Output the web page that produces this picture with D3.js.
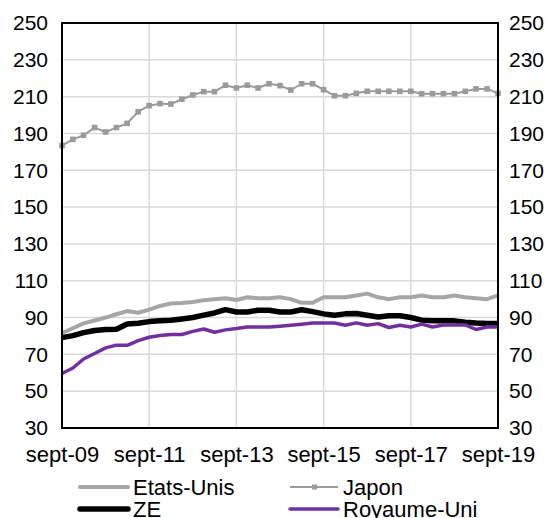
<!DOCTYPE html>
<html>
<head>
<meta charset="utf-8">
<script src="https://cdn.jsdelivr.net/npm/d3@7"></script>
<style>
  body { margin: 0; background: #fff; }
  text { font-family: "Liberation Sans", Arial, sans-serif; }
</style>
</head>
<body>
<div id="chart"></div>
<script>
// quarterly, sept-09 .. sept-19
var start = new Date(2009, 8, 1), end = new Date(2019, 8, 1);
var dates = d3.timeMonth.range(start, d3.timeMonth.offset(end, 1), 3);

var etatsUnis = [81.6, 84.2, 86.8, 88.4, 90, 91.8, 93.5, 92.6, 94.3, 96.3, 97.6, 97.9, 98.5, 99.4,
  100, 100.5, 99.5, 101, 100.5, 100.5, 101, 100, 98, 98, 101, 101, 101, 102, 103, 101,
  100, 101, 101, 102, 101, 101, 102, 101, 100.5, 100, 102];
var japon = [183.4, 186.8, 189, 193.2, 190.8, 193.2, 195.5, 201.8, 205.1, 206.2, 206, 208.6, 210.9,
  212.7, 212.7, 216.2, 214.7, 216.2, 214.7, 217, 216, 213.6, 217, 217, 213.8, 210.5, 210.5,
  211.8, 212.9, 212.9, 212.9, 212.9, 212.9, 211.6, 211.6, 211.6, 211.6, 212.9, 214.2, 214.2, 211.8];
var ze = [79.1, 80.2, 81.8, 83, 83.5, 83.6, 86.5, 86.9, 87.8, 88.2, 88.5, 89.2, 90, 91.3, 92.5,
  94.3, 93, 93, 94, 94, 93, 93, 94.2, 93.2, 92, 91.3, 92, 92.2, 91.2, 90.3, 91, 91, 90, 88.6,
  88.2, 88.2, 88.2, 87.5, 87, 86.7, 86.7];
var royaumeUni = [59.6, 62.6, 67.5, 70.5, 73.5, 75, 74.9, 77.5, 79.3, 80.3, 80.8, 80.8, 82.5, 83.8,
  82, 83.3, 84, 84.9, 84.9, 84.9, 85.3, 85.8, 86.4, 87, 87.1, 87, 85.8, 87.1, 85.8, 86.7, 84.6,
  85.8, 84.9, 86.4, 84.9, 86, 86, 86, 83.5, 84.9, 84.9];

var yTicks = [30, 50, 70, 90, 110, 130, 150, 170, 190, 210, 230, 250];
var xTickYears = [2009, 2011, 2013, 2015, 2017, 2019];

var series = [
  {name: "Etats-Unis", values: etatsUnis, color: "#a6a6a6", width: 4, marker: false},
  {name: "Japon", values: japon, color: "#9b9b9b", width: 2, marker: true},
  {name: "ZE", values: ze, color: "#000000", width: 5.5, marker: false},
  {name: "Royaume-Uni", values: royaumeUni, color: "#7030a0", width: 3.5, marker: false}
];

var W = 556, H = 518;
var margin = {top: 23, right: 58, bottom: 90, left: 62};

var svg = d3.select("#chart").append("svg")
    .attr("width", W).attr("height", H);

var x = d3.scaleTime().domain([start, end]).range([margin.left, W - margin.right]);
var y = d3.scaleLinear().domain([30, 250]).range([H - margin.bottom, margin.top]);

// grid
svg.append("g").selectAll("line.h")
    .data(yTicks).enter().append("line")
    .attr("x1", margin.left).attr("x2", W - margin.right)
    .attr("y1", function(d) { return y(d); }).attr("y2", function(d) { return y(d); })
    .attr("stroke", "#d9d9d9").attr("stroke-width", 1.5);

var xTicks = xTickYears.map(function(yr) { return new Date(yr, 8, 1); });
svg.append("g").selectAll("line.v")
    .data(xTicks).enter().append("line")
    .attr("x1", function(d) { return x(d); }).attr("x2", function(d) { return x(d); })
    .attr("y1", margin.top).attr("y2", H - margin.bottom)
    .attr("stroke", "#d9d9d9").attr("stroke-width", 1.5);

// lines
var line = d3.line()
    .x(function(d, i) { return x(dates[i]); })
    .y(function(d) { return y(d); });

series.forEach(function(s) {
  svg.append("path")
      .datum(s.values)
      .attr("fill", "none")
      .attr("stroke", s.color)
      .attr("stroke-width", s.width)
      .attr("stroke-linejoin", "round")
      .attr("d", line);
  if (s.marker) {
    svg.append("g").selectAll("rect")
        .data(s.values).enter().append("rect")
        .attr("x", function(d, i) { return x(dates[i]) - 2.8; })
        .attr("y", function(d) { return y(d) - 2.8; })
        .attr("width", 5.6).attr("height", 5.6)
        .attr("fill", s.color);
  }
});

// frame
svg.append("rect")
    .attr("x", margin.left).attr("y", margin.top)
    .attr("width", W - margin.left - margin.right)
    .attr("height", H - margin.bottom - margin.top)
    .attr("fill", "none").attr("stroke", "#000").attr("stroke-width", 2);

// y axes (left and right)
var yAxisL = d3.axisLeft(y).tickValues(yTicks).tickSize(0).tickPadding(14);
var yAxisR = d3.axisRight(y).tickValues(yTicks).tickSize(0).tickPadding(11);
var gl = svg.append("g").attr("transform", "translate(" + margin.left + ",0)").call(yAxisL);
var gr = svg.append("g").attr("transform", "translate(" + (W - margin.right) + ",0)").call(yAxisR);
[gl, gr].forEach(function(g) {
  g.select(".domain").remove();
  g.selectAll("text").attr("font-size", 21).attr("fill", "#000")
      .style("font-family", "'Liberation Sans', Arial, sans-serif");
});

// x axis
var fmt = d3.timeFormat("%y");
var xAxis = d3.axisBottom(x).tickValues(xTicks).tickSize(0).tickPadding(18)
    .tickFormat(function(d) { return "sept-" + fmt(d); });
var gx = svg.append("g").attr("transform", "translate(0," + (H - margin.bottom) + ")").call(xAxis);
gx.select(".domain").remove();
gx.selectAll("text").attr("font-size", 22).attr("fill", "#000")
    .style("font-family", "'Liberation Sans', Arial, sans-serif");

// legend
var legendPos = [
  {x: 80, y: 487}, {x: 290, y: 487},
  {x: 80, y: 509}, {x: 290, y: 509}
];
series.forEach(function(s, i) {
  var p = legendPos[i];
  var g = svg.append("g").attr("transform", "translate(" + p.x + "," + p.y + ")");
  g.append("line").attr("x1", 0).attr("x2", 48).attr("y1", 0).attr("y2", 0)
      .attr("stroke", s.color).attr("stroke-width", s.width)
      .attr("stroke-linecap", s.marker ? "butt" : "round");
  if (s.marker) {
    g.append("rect").attr("x", 22).attr("y", -2.5).attr("width", 5).attr("height", 5)
        .attr("fill", s.color);
  }
  g.append("text").attr("x", 53).attr("y", 0).attr("dy", "0.35em")
      .attr("font-size", 22).attr("fill", "#000").text(s.name);
});
</script>
</body>
</html>
